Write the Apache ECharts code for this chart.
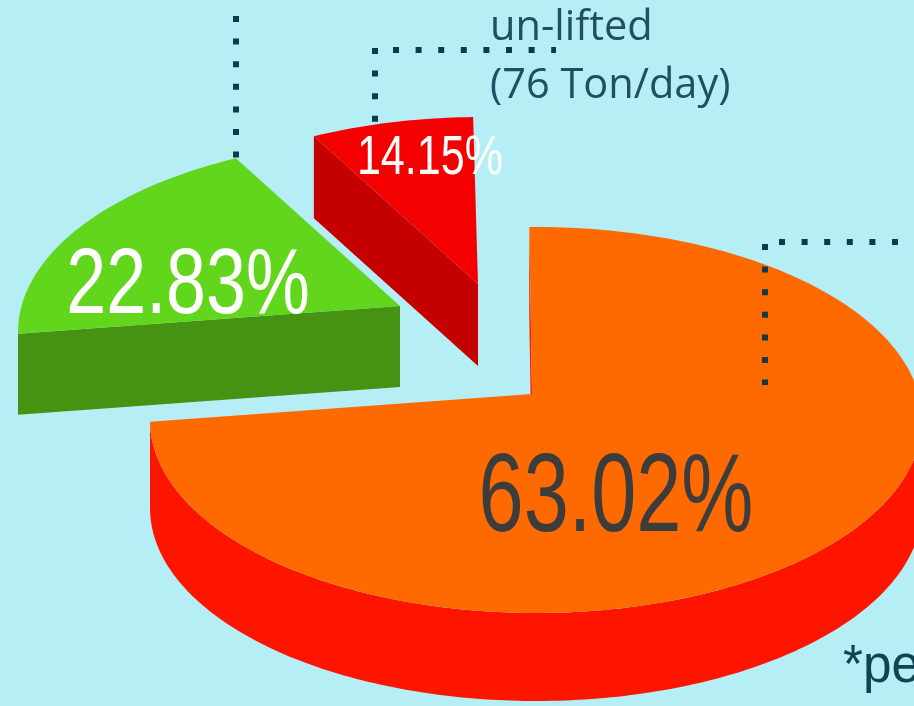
<!DOCTYPE html>
<html>
<head>
<meta charset="utf-8">
<script src="https://cdn.jsdelivr.net/npm/echarts@6/dist/echarts.min.js"></script>
<style>
html, body { margin: 0; padding: 0; background: #b5eef5; }
#main { width: 914px; height: 706px; overflow: hidden; }
</style>
</head>
<body>
<div id="main"></div>
<script>
// values
var shares = [63.02, 22.83, 14.15];
var noteLines = ['un-lifted', '(76 Ton/day)'];
var footNote = '*pe';

// the source artwork is not drawn to scale, each slice is stretched on the disc
var sweepStretch = [1.1923, 0.787, 0.481];
var startAngle = -1;

// disc shape
var radiusX = 386;
var radiusY = 193;
var apexShift = [-4, -26]; // perspective moves the centre of the disc up

// one entry per slice: where its ellipse sits and how it is painted
var sliceStyle = [
    { cx: 536, cy: 420, depth: 88, top: '#fe6a00', wall: '#fe1500', text: '#3c3c3c', size: 111, tx: 616, ty: 500, sx: 0.73 },
    { cx: 404, cy: 332, depth: 81, top: '#62d61c', wall: '#469313', text: '#ffffff', size: 92, tx: 188, ty: 288, sx: 0.78 },
    { cx: 482, cy: 310, depth: 82, top: '#f50000', wall: '#c40000', text: '#ffffff', size: 56, tx: 430, ty: 159, sx: 0.77 }
];

var dotColor = '#0f3a4a';
var dotDash = [6, 16.6];

function rimPoint(s, deg, drop) {
    var r = deg * Math.PI / 180;
    return [s.cx + radiusX * Math.sin(r), s.cy - radiusY * Math.cos(r) + (drop || 0)];
}

function arcPoints(s, from, to, drop) {
    var pts = [];
    var n = Math.max(2, Math.ceil(Math.abs(to - from)));
    for (var i = 0; i <= n; i++) {
        pts.push(rimPoint(s, from + (to - from) * i / n, drop));
    }
    return pts;
}

function renderSlice(params, api) {
    var idx = params.dataIndex;
    var s = sliceStyle[idx];
    var from = startAngle;
    for (var i = 0; i < idx; i++) {
        from += shares[i] * 3.6 * sweepStretch[i];
    }
    var to = from + api.value(0) * 3.6 * sweepStretch[idx];
    var apex = [s.cx + apexShift[0], s.cy + apexShift[1]];
    var children = [];

    // cut face below the first edge
    var edge = rimPoint(s, from);
    children.push({
        type: 'polygon',
        shape: { points: [edge, apex, [apex[0], apex[1] + s.depth], [edge[0], edge[1] + s.depth]] },
        style: { fill: s.wall }
    });

    // outer wall, only the part that faces the viewer
    var a = Math.max(from, 90);
    var b = Math.min(to, 270);
    if (b > a) {
        children.push({
            type: 'polygon',
            shape: { points: arcPoints(s, a, b, 0).concat(arcPoints(s, b, a, s.depth)) },
            style: { fill: s.wall }
        });
    }

    // top of the slice
    children.push({
        type: 'polygon',
        shape: { points: [apex].concat(arcPoints(s, from, to, 0)) },
        style: { fill: s.top }
    });

    children.push({
        type: 'text',
        x: s.tx,
        y: s.ty,
        scaleX: s.sx,
        style: {
            text: api.value(0).toFixed(2) + '%',
            fill: s.text,
            fontFamily: '"Liberation Sans"',
            fontSize: s.size,
            align: 'center',
            verticalAlign: 'middle'
        }
    });

    return { type: 'group', children: children };
}

function dotted(x1, y1, x2, y2) {
    return {
        type: 'line',
        z: 100,
        shape: { x1: x1, y1: y1, x2: x2, y2: y2 },
        style: { stroke: dotColor, lineWidth: 6, lineDash: dotDash, lineCap: 'butt' }
    };
}

function label(text, x, y, size, family, scaleX, color) {
    return {
        type: 'text',
        z: 100,
        x: x,
        y: y,
        scaleX: scaleX || 1,
        style: { text: text, fill: color || '#1f4f60', fontFamily: family, fontSize: size, verticalAlign: 'middle' }
    };
}

var myChart = echarts.init(document.getElementById('main'));

var option = {
    backgroundColor: '#b5eef5',
    animation: false,
    graphic: [
        // leader lines
        dotted(236, -6.6, 236, 158),
        dotted(375, 48, 375, 123),
        dotted(393, 50, 556, 50),
        dotted(765, 244, 765, 385),
        dotted(779, 242, 914, 242),
        label(noteLines[0], 490, 28, 41.5, '"Open Sans"'),
        label(noteLines[1], 490, 86, 41.5, '"Open Sans"'),
        label(footNote, 843, 667, 54, '"Liberation Sans"', 0.95, '#0e4454')
    ],
    series: [
        {
            type: 'custom',
            coordinateSystem: 'none',
            clip: false,
            renderItem: renderSlice,
            data: shares.map(function (v) { return [v]; })
        }
    ]
};

myChart.setOption(option);
</script>
</body>
</html>
